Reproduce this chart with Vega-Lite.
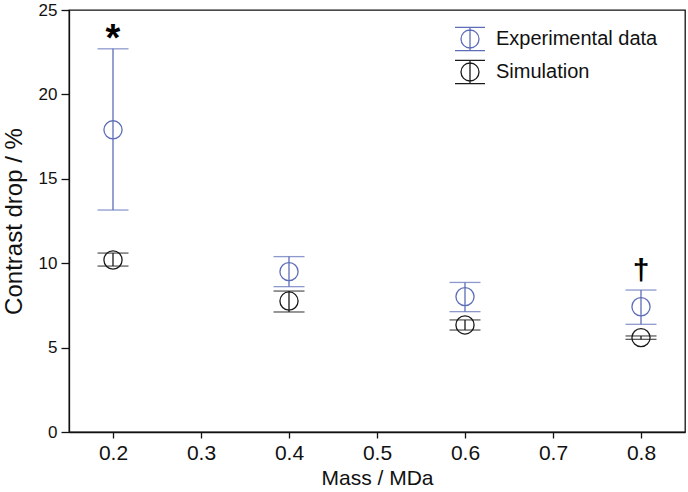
{
  "$schema": "https://vega.github.io/schema/vega-lite/v6.json",
  "autosize": "none",
  "width": 616,
  "height": 422,
  "padding": {"left": 69, "top": 10, "right": 3, "bottom": 60},
  "background": "white",
  "config": {
    "font": "Liberation Sans",
    "view": {"stroke": "#111111", "strokeWidth": 1.3},
    "axis": {
      "domainColor": "#111111",
      "domainWidth": 1.3,
      "tickColor": "#111111",
      "tickWidth": 1.3,
      "grid": false,
      "labelColor": "#111111",
      "titleColor": "#111111",
      "labelFont": "Liberation Sans",
      "titleFont": "Liberation Sans",
      "titleFontWeight": "normal"
    }
  },
  "resolve": {"scale": {"color": "independent"}, "legend": {"color": "independent"}},
  "datasets": {
    "bars": [
      {"mass": 0.2, "series": "Experimental data", "mean": 17.9, "lo": 13.15, "hi": 22.7},
      {"mass": 0.4, "series": "Experimental data", "mean": 9.5, "lo": 8.61, "hi": 10.39},
      {"mass": 0.6, "series": "Experimental data", "mean": 8.02, "lo": 7.13, "hi": 8.86},
      {"mass": 0.8, "series": "Experimental data", "mean": 7.42, "lo": 6.38, "hi": 8.41},
      {"mass": 0.2, "series": "Simulation", "mean": 10.19, "lo": 9.83, "hi": 10.6},
      {"mass": 0.4, "series": "Simulation", "mean": 7.76, "lo": 7.11, "hi": 8.35},
      {"mass": 0.6, "series": "Simulation", "mean": 6.34, "lo": 6.04, "hi": 6.64},
      {"mass": 0.8, "series": "Simulation", "mean": 5.59, "lo": 5.49, "hi": 5.69}
    ],
    "notes": [
      {"mass": 0.2, "y": 22.55, "label": "*", "size": 38},
      {"mass": 0.8, "y": 9.0, "label": "†", "size": 30}
    ]
  },
  "layer": [
    {
      "data": {"name": "bars"},
      "mark": {"type": "rule", "strokeWidth": 1.3},
      "encoding": {
        "x": {"field": "mass", "type": "quantitative"},
        "y": {"field": "lo", "type": "quantitative"},
        "y2": {"field": "hi"},
        "color": {"field": "series", "type": "nominal", "legend": null,
          "scale": {"domain": ["Experimental data", "Simulation"], "range": ["#5d6db8", "#1a1a1a"]}}
      }
    },
    {
      "data": {"name": "bars"},
      "mark": {"type": "tick", "orient": "horizontal", "size": 31, "thickness": 1.3},
      "encoding": {
        "x": {"field": "mass", "type": "quantitative"},
        "y": {"field": "lo", "type": "quantitative"},
        "color": {"field": "series", "type": "nominal", "legend": null,
          "scale": {"domain": ["Experimental data", "Simulation"], "range": ["#5d6db8", "#1a1a1a"]}}
      }
    },
    {
      "data": {"name": "bars"},
      "mark": {"type": "tick", "orient": "horizontal", "size": 31, "thickness": 1.3},
      "encoding": {
        "x": {"field": "mass", "type": "quantitative"},
        "y": {"field": "hi", "type": "quantitative"},
        "color": {"field": "series", "type": "nominal", "legend": null,
          "scale": {"domain": ["Experimental data", "Simulation"], "range": ["#5d6db8", "#1a1a1a"]}}
      }
    },
    {
      "data": {"name": "bars"},
      "mark": {"type": "point", "shape": "circle", "filled": false, "size": 330, "strokeWidth": 1.3, "opacity": 1},
      "encoding": {
        "x": {
          "field": "mass", "type": "quantitative",
          "scale": {"domain": [0.15, 0.85], "nice": false, "zero": false},
          "axis": {
            "title": "Mass / MDa",
            "values": [0.2, 0.3, 0.4, 0.5, 0.6, 0.7, 0.8],
            "format": ".1f",
            "labelFontSize": 21,
            "titleFontSize": 21,
            "tickSize": 6,
            "labelPadding": 4,
            "titlePadding": 4
          }
        },
        "y": {
          "field": "mean", "type": "quantitative",
          "scale": {"domain": [0, 25], "nice": false},
          "axis": {
            "title": "Contrast drop / %",
            "values": [0, 5, 10, 15, 20, 25],
            "labelFontSize": 17,
            "titleFontSize": 24,
            "tickSize": 8,
            "labelPadding": 4,
            "titlePadding": 12
          }
        },
        "color": {
          "field": "series", "type": "nominal",
          "scale": {"domain": ["Experimental data", "Simulation"], "range": ["#5d6db8", "#1a1a1a"]},
          "legend": {
            "title": null,
            "orient": "none",
            "legendX": 385,
            "legendY": 13,
            "symbolType": "M-1,-0.77H1M-1,0.77H1M0,-0.77V0.77M0.6,0A0.6,0.6 0 1 1 -0.6,0A0.6,0.6 0 1 1 0.6,0",
            "symbolSize": 900,
            "symbolStrokeWidth": 1.3,
            "symbolFillColor": "transparent",
            "symbolOpacity": 1,
            "labelFontSize": 20,
            "labelLimit": 400,
            "labelFont": "Liberation Sans",
            "labelColor": "#111111",
            "labelOffset": 10,
            "rowPadding": 2,
            "padding": 0
          }
        }
      }
    },
    {
      "data": {"name": "notes"},
      "mark": {"type": "text", "fontWeight": "bold", "baseline": "alphabetic", "align": "center", "color": "#000000"},
      "encoding": {
        "x": {"field": "mass", "type": "quantitative"},
        "y": {"field": "y", "type": "quantitative"},
        "text": {"field": "label"},
        "size": {"field": "size", "type": "quantitative", "scale": null}
      }
    }
  ]
}
